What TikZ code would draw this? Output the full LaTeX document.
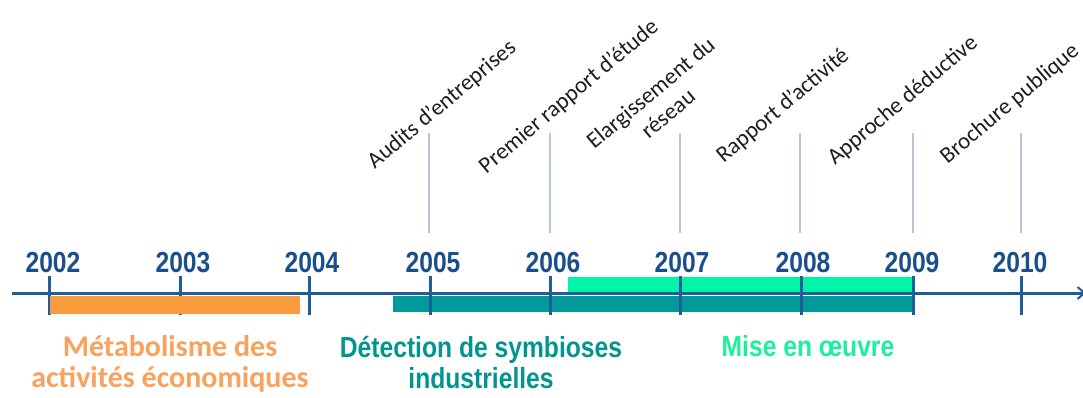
\documentclass[tikz,border=0pt]{standalone}
\usepackage{fontspec}
\setmainfont{Carlito}
\newfontfamily\narrowfont{Liberation Sans}[FakeStretch=0.85]
\usetikzlibrary{arrows.meta}
\definecolor{yearblue}{RGB}{26,78,140}
\definecolor{axisblue}{RGB}{31,94,150}
\definecolor{barorange}{RGB}{247,155,60}
\definecolor{txtorange}{RGB}{248,162,94}
\definecolor{barteal}{RGB}{0,154,154}
\definecolor{txtteal}{RGB}{0,150,143}
\definecolor{bargreen}{RGB}{0,245,168}
\definecolor{txtgreen}{RGB}{29,240,154}
\definecolor{evline}{RGB}{184,196,218}
\definecolor{evtext}{RGB}{30,30,30}
\tikzset{
  yearlbl/.style={font=\narrowfont\bfseries\fontsize{29}{31}\selectfont, text=yearblue, anchor=base, inner sep=0pt},
  phaselbl/.style={font=\narrowfont\bfseries\fontsize{29}{31}\selectfont, align=center, anchor=base, inner sep=0pt},
  orangelbl/.style={font=\bfseries\fontsize{30}{31}\selectfont, align=center, anchor=base, inner sep=0pt, text=txtorange},
  evlbl/.style={font=\fontsize{23}{27}\selectfont, text=evtext, rotate=40, anchor=center, inner sep=0pt, align=center},
  tickline/.style={draw=axisblue, line width=3pt},
  evconn/.style={draw=evline, line width=2pt},
}
\begin{document}
\begin{tikzpicture}[x=1pt,y=-1pt]
\useasboundingbox (0,0) rectangle (1083,397);
% bars under ticks
\fill[barteal] (393,296) rectangle (913,312);
\fill[bargreen] (568,277) rectangle (913,292);
% axis
\coordinate (axstart) at (12,293);
\coordinate (axend) at (1086,293);
\draw[axisblue, line width=3pt, -{Straight Barb[length=7pt,width=12pt,line width=2pt]}] (axstart) -- (axend);
% ticks
\foreach \n/\x in {t2002/49,t2003/180,t2004/309,t2005/430,t2006/550,t2007/680,t2008/801,t2009/913,t2010/1021}{
  \coordinate (\n a) at (\x,276);
  \coordinate (\n b) at (\x,315);
  \draw[tickline] (\n a) -- (\n b);
}
% orange bar over ticks
\fill[barorange] (50,296) rectangle (300,314);
% years
\node[yearlbl] (y2002) at (53,272) {2002};
\node[yearlbl] (y2003) at (183,272) {2003};
\node[yearlbl] (y2004) at (312,272) {2004};
\node[yearlbl] (y2005) at (433,272) {2005};
\node[yearlbl] (y2006) at (553,272) {2006};
\node[yearlbl] (y2007) at (682,272) {2007};
\node[yearlbl] (y2008) at (803,272) {2008};
\node[yearlbl] (y2009) at (912,272) {2009};
\node[yearlbl] (y2010) at (1020,272) {2010};
% phase labels (base anchor = last line baseline)
\node[orangelbl] (p1) at (170,387) {Métabolisme des\\activités économiques};
\node[phaselbl, text=txtteal] (p2) at (481,388) {Détection de symbioses\\industrielles};
\node[phaselbl, text=txtgreen] (p3) at (808,356) {Mise en œuvre};
% event lines
\foreach \n/\x in {e1/429,e2/550,e3/680,e4/800,e5/913,e6/1021}{
  \coordinate (\n top) at (\x,133);
  \coordinate (\n bot) at (\x,233);
  \draw[evconn] (\n top) -- (\n bot);
}
% event labels
\node[evlbl] (l1) at (442,105) {Audits d’entreprises};
\node[evlbl] (l2) at (569,97) {Premier rapport d’étude};
\node[evlbl] (l3) at (659,103) {Elargissement du\\réseau};
\node[evlbl] (l4) at (783,106) {Rapport d’activité};
\node[evlbl] (l5) at (903,101) {Approche déductive};
\node[evlbl] (l6) at (1010,104) {Brochure publique};
\end{tikzpicture}
\end{document}
